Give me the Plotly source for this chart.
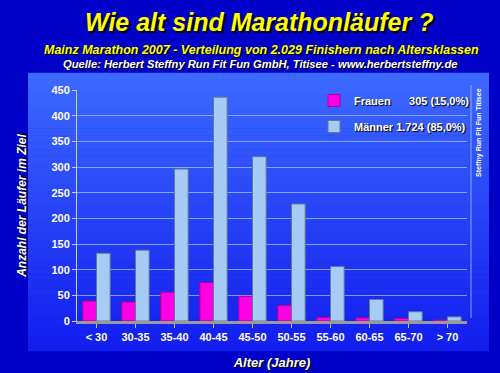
import plotly.graph_objects as go

categories = ["< 30", "30-35", "35-40", "40-45", "45-50", "50-55", "55-60", "60-65", "65-70", "> 70"]
frauen = [39, 37, 56, 75, 48, 30, 7, 6, 5, 2]
maenner = [132, 138, 296, 436, 320, 228, 106, 42, 18, 8]
y_ticks = [0, 50, 100, 150, 200, 250, 300, 350, 400, 450]

W, H = 500, 373
ML, MR, MT, MB = 77, 33, 90, 52
PW, PH = W - ML - MR, H - MT - MB

def xp(px):
    return (px - ML) / PW

def yp(py):
    return (H - MB - py) / PH

shadow = "1px 1px 1px #000000"
fig = go.Figure()
fig.add_trace(go.Bar(
    x=categories, y=frauen,
    name="Frauen\u00a0\u00a0\u00a0\u00a0\u00a0\u00a0305 (15,0%)",
    marker=dict(color="#FF00E6", line=dict(color="#B0009A", width=1)),
    legendgroup="f",
))
fig.add_trace(go.Bar(
    x=categories, y=maenner,
    name="Männer 1.724 (85,0%)",
    marker=dict(color="#A6CCF5", line=dict(color="#5F7A99", width=1)),
    legendgroup="m",
))

# background panel with vertical gradient (paper coordinates)
shapes = []
px0, px1 = xp(28), xp(489)
py_top, py_bot = 73, 351
n = 40
top_c = (60, 105, 255)
bot_c = (18, 30, 238)
for i in range(n):
    t = i / (n - 1)
    c = tuple(int(round(top_c[k] + (bot_c[k] - top_c[k]) * t)) for k in range(3))
    y0p = py_top + (py_bot - py_top) * i / n
    y1p = py_top + (py_bot - py_top) * (i + 1) / n
    shapes.append(dict(type="rect", xref="paper", yref="paper", layer="below",
                       x0=px0, x1=px1, y0=yp(y1p) - 0.001, y1=yp(y0p) + 0.001,
                       fillcolor="rgb(%d,%d,%d)" % c, line=dict(width=0)))
# back wall right edge line
shapes.append(dict(type="line", xref="paper", yref="paper", layer="below",
                   x0=xp(471), x1=xp(471), y0=yp(318), y1=yp(85),
                   line=dict(color="rgba(170,190,255,0.8)", width=1)))

fig.update_layout(
    width=W, height=H,
    margin=dict(l=ML, r=MR, t=MT, b=MB, autoexpand=False),
    paper_bgcolor="#0000C8",
    plot_bgcolor="rgba(0,0,0,0)",
    barmode="group", bargap=0.3, bargroupgap=0.0,
    shapes=shapes,
    font=dict(family="Liberation Sans, Arial, sans-serif", color="white"),
    legend=dict(x=xp(314), y=yp(86), xanchor="left", yanchor="top",
                bgcolor="rgba(0,0,0,0)", tracegroupgap=7,
                font=dict(size=11, color="white", weight="bold", shadow=shadow),
                itemwidth=30),
    xaxis=dict(
        type="category", range=[-0.5, 9.5], automargin=False,
        showline=True, linecolor="#9A9A9A", linewidth=3,
        ticks="outside", ticklen=4, tickcolor="#C0C8E0",
        tickfont=dict(size=11, color="white", weight="bold"),
        title=dict(text="<i>Alter (Jahre)</i>", standoff=16,
                   font=dict(size=13, color="white", weight="bold", shadow=shadow)),
        showgrid=False,
    ),
    yaxis=dict(
        range=[0, 450], tickvals=y_ticks, automargin=False,
        showline=True, linecolor="#C8D0E8", linewidth=1,
        ticks="outside", ticklen=4, tickcolor="#C8D0E8",
        tickfont=dict(size=11, color="white", weight="bold"),
        showgrid=True, gridcolor="rgba(170,190,255,0.75)", gridwidth=1,
        zeroline=False,
        title=dict(text="<i>Anzahl der Läufer im Ziel</i>", standoff=22,
                   font=dict(size=12, color="white", weight="bold", shadow=shadow)),
    ),
)

def note(text, x, y, size, color, sh=shadow, angle=0, family=None):
    f = dict(size=size, color=color, weight="bold")
    if sh:
        f["shadow"] = sh
    if family:
        f["family"] = family
    fig.add_annotation(text=text, xref="paper", yref="paper", x=xp(x), y=yp(y),
                       xanchor="center", yanchor="middle", showarrow=False,
                       textangle=angle, font=f)

note("<i>Wie alt sind Marathonläufer ?</i>", 259, 22, 25, "#FFFF00", sh="2px 2px 1px #000000")
note("<i>Mainz Marathon 2007 - Verteilung von 2.029 Finishern nach Altersklassen</i>", 261, 50, 12.5, "#FFFF00")
note("<i>Quelle: Herbert Steffny Run Fit Fun GmbH, Titisee - www.herbertsteffny.de</i>", 260, 64, 11.2, "white")
note("Steffny Run Fit Fun Titisee", 479, 132, 7, "white", sh=None, angle=-90)

fig.write_html("out.html", config={"displayModeBar": False},
               post_script="document.body.style.margin='0';document.body.style.overflow='hidden';")
